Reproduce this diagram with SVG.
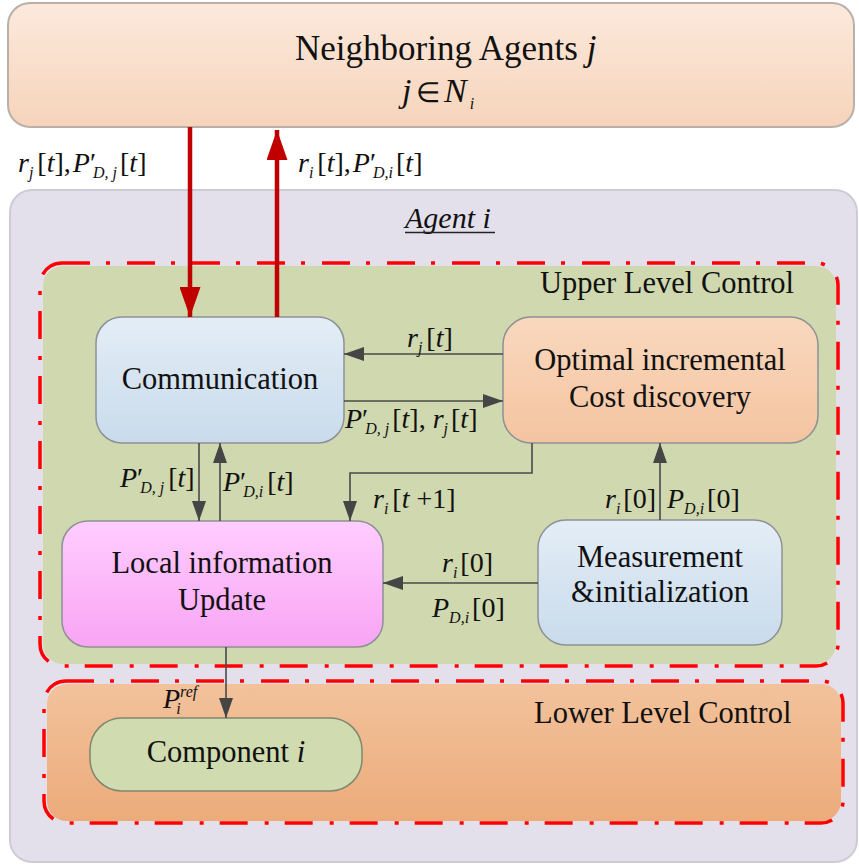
<svg xmlns="http://www.w3.org/2000/svg" width="859" height="865" viewBox="0 0 859 865">
  <style>
    .box { font-size: 30.5px; text-anchor: middle; }
    .m { font-size: 28px; }
    .i { font-style: italic; }
    .s { font-size: 16px; font-style: italic; }
    .conn { fill: none; stroke: #4a4a4a; stroke-width: 1.6; }
    .red { fill: none; stroke: #c00000; stroke-width: 4.5; }
    .dash { fill: none; stroke: #ff0000; stroke-width: 3.5; stroke-dasharray: 28 16 4 17; }
    .node { stroke: #8d9196; stroke-width: 1.5; }
  </style>
  <defs>
    <linearGradient id="gPeach" x1="0" y1="0" x2="0" y2="1">
      <stop offset="0" stop-color="#fce9dc"/>
      <stop offset="1" stop-color="#f6d4bb"/>
    </linearGradient>
    <linearGradient id="gBlue" x1="0" y1="0" x2="0" y2="1">
      <stop offset="0" stop-color="#e3edf6"/>
      <stop offset="1" stop-color="#c9dbeb"/>
    </linearGradient>
    <linearGradient id="gOpt" x1="0" y1="0" x2="0" y2="1">
      <stop offset="0" stop-color="#f9d8be"/>
      <stop offset="1" stop-color="#f4c4a0"/>
    </linearGradient>
    <linearGradient id="gPink" x1="0" y1="0" x2="0" y2="1">
      <stop offset="0" stop-color="#ffcdff"/>
      <stop offset="1" stop-color="#f8a4f3"/>
    </linearGradient>
    <linearGradient id="gOrange" x1="0" y1="0" x2="0" y2="1">
      <stop offset="0" stop-color="#f2c29c"/>
      <stop offset="1" stop-color="#ecab7a"/>
    </linearGradient>
    <marker id="ah" viewBox="0 0 20 14" refX="20" refY="7" markerWidth="20" markerHeight="14" markerUnits="userSpaceOnUse" orient="auto">
      <path d="M0,0 L20,7 L0,14 z" fill="#454545"/>
    </marker>
    <marker id="rh" viewBox="0 0 30 21" refX="30" refY="10.5" markerWidth="30" markerHeight="21" markerUnits="userSpaceOnUse" orient="auto">
      <path d="M0,0 L30,10.5 L0,21 z" fill="#c00000"/>
    </marker>
  </defs>

  <!-- neighbouring agents -->
  <g id="neighbors" font-family="Liberation Serif, Times New Roman, serif" fill="#111">
    <rect x="8" y="3" width="846" height="124" rx="22" fill="url(#gPeach)" stroke="#b9b0a9" stroke-width="2"/>
    <text x="295" y="60" font-size="35">Neighboring Agents <tspan class="i">j</tspan></text>
    <text y="102" font-size="34"><tspan class="i" x="402">j</tspan><tspan x="416" font-size="28">∈</tspan><tspan class="i" x="444">N</tspan><tspan class="s" font-size="18" dx="3" dy="7">i</tspan></text>
  </g>

  <!-- agent container -->
  <g id="agent" font-family="Liberation Serif, Times New Roman, serif" fill="#111">
    <rect x="10" y="190" width="847" height="672" rx="22" fill="#e3e0ec" stroke="#cfcbd6" stroke-width="2"/>
    <text class="i" x="405" y="228" font-size="30">Agent i</text>
    <line x1="405" y1="232.5" x2="495" y2="232.5" stroke="#222" stroke-width="1.3"/>
  </g>

  <!-- upper level control region -->
  <g id="upper-level" font-family="Liberation Serif, Times New Roman, serif" fill="#111">
    <rect x="43" y="266" width="793" height="398" rx="20" fill="#cfd8ae"/>
    <rect x="40" y="263" width="798" height="403" rx="22" class="dash"/>
    <text x="540" y="293" font-size="30.5">Upper Level Control</text>
  </g>

  <!-- lower level control region -->
  <g id="lower-level" font-family="Liberation Serif, Times New Roman, serif" fill="#111">
    <rect x="47" y="684" width="794" height="137" rx="20" fill="url(#gOrange)"/>
    <rect x="44" y="681" width="799" height="142" rx="22" class="dash"/>
    <text x="534" y="723" font-size="30.5">Lower Level Control</text>
  </g>

  <g id="communication" font-family="Liberation Serif, Times New Roman, serif" fill="#111">
    <rect class="node" x="96" y="317" width="248" height="126" rx="26" fill="url(#gBlue)"/>
    <text class="box" x="220" y="389">Communication</text>
  </g>

  <g id="optimal-cost" font-family="Liberation Serif, Times New Roman, serif" fill="#111">
    <rect class="node" x="503" y="317" width="315" height="126" rx="28" fill="url(#gOpt)"/>
    <text class="box" x="660" y="370">Optimal incremental</text>
    <text class="box" x="660" y="407">Cost discovery</text>
  </g>

  <g id="local-update" font-family="Liberation Serif, Times New Roman, serif" fill="#111">
    <rect class="node" x="62" y="521" width="321" height="126" rx="26" fill="url(#gPink)"/>
    <text class="box" x="222" y="573">Local information</text>
    <text class="box" x="222" y="610">Update</text>
  </g>

  <g id="measurement" font-family="Liberation Serif, Times New Roman, serif" fill="#111">
    <rect class="node" x="538" y="520" width="244" height="125" rx="28" fill="url(#gBlue)"/>
    <text class="box" x="660" y="567">Measurement</text>
    <text class="box" x="660" y="602">&amp;initialization</text>
  </g>

  <g id="component" font-family="Liberation Serif, Times New Roman, serif" fill="#111">
    <rect x="90" y="718" width="272" height="73" rx="32" fill="#d0dbb0" stroke="#7f876f" stroke-width="1.5"/>
    <text class="box" x="226" y="762">Component <tspan class="i">i</tspan></text>
  </g>

  <!-- connectors -->
  <g id="connectors">
    <line class="red" x1="190" y1="127" x2="190" y2="317" marker-end="url(#rh)"/>
    <line class="red" x1="277" y1="317" x2="277" y2="130" marker-end="url(#rh)"/>

    <line class="conn" x1="503" y1="354" x2="344" y2="354" marker-end="url(#ah)"/>
    <line class="conn" x1="344" y1="401" x2="503" y2="401" marker-end="url(#ah)"/>
    <line class="conn" x1="199" y1="443" x2="199" y2="521" marker-end="url(#ah)"/>
    <line class="conn" x1="220" y1="521" x2="220" y2="443" marker-end="url(#ah)"/>
    <polyline class="conn" points="532,443 532,473 350,473 350,521" marker-end="url(#ah)"/>
    <line class="conn" x1="660" y1="520" x2="660" y2="443" marker-end="url(#ah)"/>
    <line class="conn" x1="538" y1="583" x2="383" y2="583" marker-end="url(#ah)"/>
    <line class="conn" x1="226" y1="647" x2="226" y2="718" marker-end="url(#ah)"/>
  </g>

  <!-- connector labels -->
  <g id="labels" font-family="Liberation Serif, Times New Roman, serif" fill="#111">
    <text class="m" x="18" y="172"><tspan class="i">r</tspan><tspan class="s" dy="6">j</tspan><tspan dx="4" dy="-6">[</tspan><tspan class="i">t</tspan>],<tspan class="i" dx="2">P</tspan>′<tspan class="s" dx="-3" dy="6">D, j</tspan><tspan dx="3" dy="-6">[</tspan><tspan class="i">t</tspan>]</text>
    <text class="m" x="298" y="172"><tspan class="i">r</tspan><tspan class="s" dy="6">i</tspan><tspan dx="4" dy="-6">[</tspan><tspan class="i">t</tspan>],<tspan class="i" dx="2">P</tspan>′<tspan class="s" dx="-3" dy="6">D,i</tspan><tspan dx="3" dy="-6">[</tspan><tspan class="i">t</tspan>]</text>

    <text class="m" x="407" y="347"><tspan class="i">r</tspan><tspan class="s" dy="6">j</tspan><tspan dx="4" dy="-6">[</tspan><tspan class="i">t</tspan>]</text>
    <text class="m" x="345" y="428"><tspan class="i">P</tspan>′<tspan class="s" dx="-3" dy="6">D, j</tspan><tspan dx="3" dy="-6">[</tspan><tspan class="i">t</tspan>],<tspan class="i" dx="7">r</tspan><tspan class="s" dy="6">j</tspan><tspan dx="3" dy="-6">[</tspan><tspan class="i">t</tspan>]</text>

    <text class="m" x="120" y="487"><tspan class="i">P</tspan>′<tspan class="s" dx="-3" dy="6">D, j</tspan><tspan dx="4" dy="-6">[</tspan><tspan class="i">t</tspan>]</text>
    <text class="m" x="223" y="491"><tspan class="i">P</tspan>′<tspan class="s" dx="-3" dy="6">D,i</tspan><tspan dx="4" dy="-6">[</tspan><tspan class="i">t</tspan>]</text>

    <text class="m" x="373" y="508"><tspan class="i">r</tspan><tspan class="s" dy="6">i</tspan><tspan dx="4" dy="-6">[</tspan><tspan class="i">t</tspan> +1]</text>
    <text class="m" x="605" y="508"><tspan class="i">r</tspan><tspan class="s" dy="6">i</tspan><tspan dx="3" dy="-6">[0]</tspan></text>
    <text class="m" x="667" y="508"><tspan class="i">P</tspan><tspan class="s" dy="6">D,i</tspan><tspan dx="3" dy="-6">[0]</tspan></text>

    <text class="m" x="442" y="572"><tspan class="i">r</tspan><tspan class="s" dy="6">i</tspan><tspan dx="3" dy="-6">[0]</tspan></text>
    <text class="m" x="432" y="617"><tspan class="i">P</tspan><tspan class="s" dy="6">D,i</tspan><tspan dx="3" dy="-6">[0]</tspan></text>

    <text class="m" x="163" y="708"><tspan class="i">P</tspan><tspan class="s" font-size="15" dy="-11">ref</tspan><tspan class="s" font-size="15" dx="-21" dy="17">i</tspan></text>
  </g>
</svg>
